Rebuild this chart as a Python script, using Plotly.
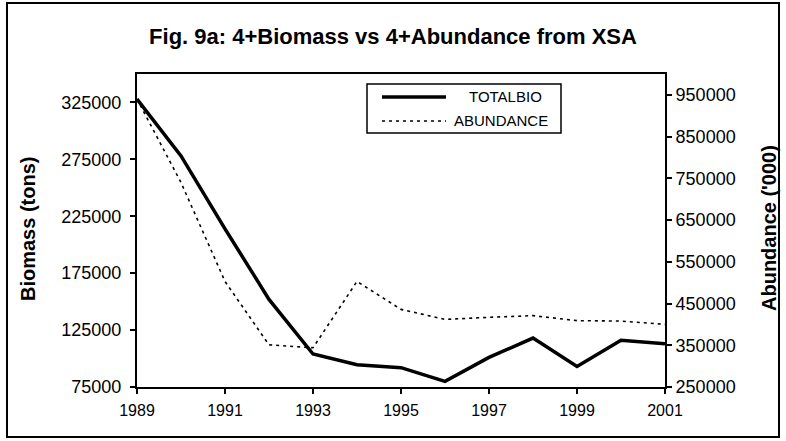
import plotly.graph_objects as go

years = [1989, 1990, 1991, 1992, 1993, 1994, 1995, 1996, 1997, 1998, 1999, 2000, 2001]
totalbio = [328000, 278000, 214000, 152000, 104000, 94500, 92000, 80000, 101000, 118000, 93000, 116000, 113000]
abundance = [940000, 740000, 503000, 351000, 344000, 503000, 436000, 412000, 417000, 421000, 409000, 408000, 400000]

FONT = "Arial, Liberation Sans, sans-serif"

# plot-area pixel geometry
L, R, T, B = 137, 665, 74, 387
W, H = R - L, B - T

def px(x):
    return (x - L) / W

def py(y):
    return (B - y) / H

fig = go.Figure()
fig.add_trace(go.Scatter(x=years, y=totalbio, mode="lines", name="TOTALBIO",
                         line=dict(color="black", width=3.5), yaxis="y", showlegend=False))
fig.add_trace(go.Scatter(x=years, y=abundance, mode="lines", name="ABUNDANCE",
                         line=dict(color="black", width=1.6, dash="3px,4px"), yaxis="y2", showlegend=False))

shapes = [
    # outer chart border
    dict(type="rect", xref="paper", yref="paper", x0=px(7), x1=px(779), y0=py(437), y1=py(3),
         line=dict(color="black", width=2), layer="below"),
    # legend box
    dict(type="rect", xref="paper", yref="paper", x0=px(367), x1=px(561), y0=py(133), y1=py(84),
         line=dict(color="black", width=1.5), fillcolor="white"),
    dict(type="line", xref="paper", yref="paper", x0=px(382), x1=px(446), y0=py(97), y1=py(97),
         line=dict(color="black", width=3.5)),
    dict(type="line", xref="paper", yref="paper", x0=px(382), x1=px(446), y0=py(121), y1=py(121),
         line=dict(color="black", width=1.6, dash="3px,4px")),
]

annotations = [
    dict(text="TOTALBIO", xref="paper", yref="paper", x=px(505), y=py(97), showarrow=False,
         xanchor="center", yanchor="middle", font=dict(family=FONT, size=15, color="black")),
    dict(text="ABUNDANCE", xref="paper", yref="paper", x=px(501), y=py(121), showarrow=False,
         xanchor="center", yanchor="middle", font=dict(family=FONT, size=15, color="black")),
    dict(text="<b>Biomass (tons)</b>", xref="paper", yref="paper", x=px(28), y=py(229), textangle=-90,
         showarrow=False, xanchor="center", yanchor="middle", font=dict(family=FONT, size=20, color="black")),
    dict(text="<b>Abundance ('000)</b>", xref="paper", yref="paper", x=px(769), y=py(228), textangle=-90,
         showarrow=False, xanchor="center", yanchor="middle", font=dict(family=FONT, size=20, color="black")),
]

fig.update_layout(
    width=786, height=441,
    margin=dict(l=L, r=786 - R, t=T, b=441 - B),
    paper_bgcolor="white", plot_bgcolor="white",
    title=dict(text="<b>Fig. 9a: 4+Biomass vs 4+Abundance from XSA</b>", x=0.5, xanchor="center",
               y=1 - 36 / 441, yanchor="middle", font=dict(family=FONT, size=22, color="black")),
    xaxis=dict(range=[1989, 2001], tick0=1989, dtick=2, showgrid=False, zeroline=False,
               showline=True, linecolor="black", linewidth=2, mirror=True,
               ticks="outside", ticklen=5, tickwidth=1.5, tickcolor="black", ticklabelstandoff=3,
               tickfont=dict(family=FONT, size=16, color="black")),
    yaxis=dict(range=[75000, 350000], tick0=75000, dtick=50000, showgrid=False, zeroline=False,
               showline=True, linecolor="black", linewidth=2,
               ticks="outside", ticklen=5, tickwidth=1.5, tickcolor="black", tickformat="d",
               ticklabelstandoff=5,
               tickfont=dict(family=FONT, size=18, color="black")),
    yaxis2=dict(range=[250000, 1000000], tick0=250000, dtick=100000, overlaying="y", side="right",
                showgrid=False, zeroline=False, showline=True, linecolor="black", linewidth=2,
                ticks="outside", ticklen=5, tickwidth=1.5, tickcolor="black", tickformat="d",
                tickfont=dict(family=FONT, size=18, color="black")),
    shapes=shapes,
    annotations=annotations,
    showlegend=False,
)

fig.write_html("out.html", config={"displayModeBar": False},
               post_script="document.body.style.margin='0';")
